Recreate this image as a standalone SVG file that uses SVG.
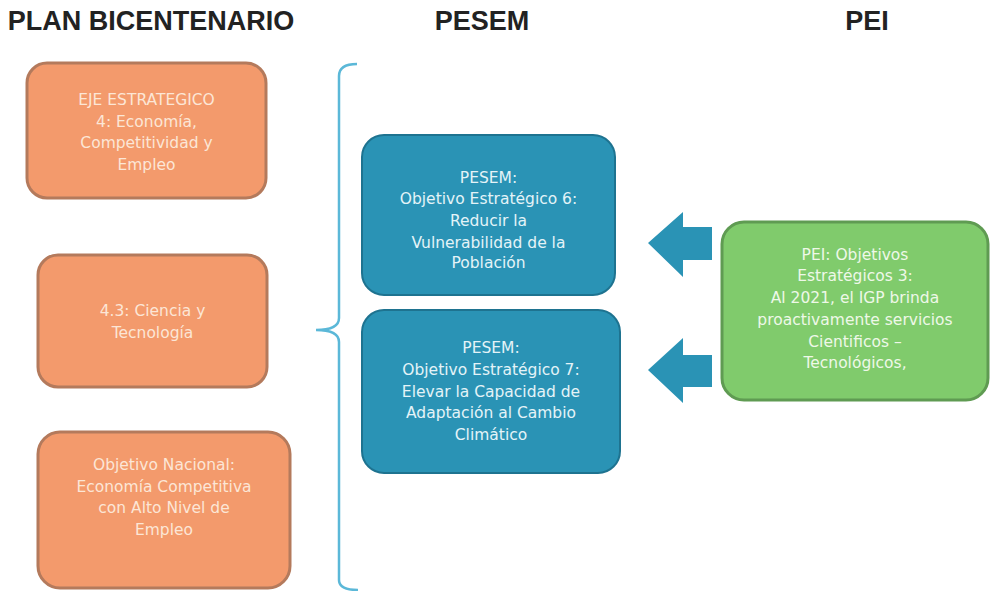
<svg xmlns="http://www.w3.org/2000/svg" width="991" height="591" viewBox="0 0 991 591">
<style>
.title{font-family:"Liberation Sans",Arial,sans-serif;font-weight:bold;font-size:27px;fill:#222;text-anchor:middle}
.lbl{font-family:"DejaVu Sans",Verdana,sans-serif;font-size:15.5px;text-anchor:middle}
.org rect{fill:#F39A6C;stroke:#B47A5C;stroke-width:3}
.org text{fill:#FCE6D6}
.blu rect{fill:#2A93B5;stroke:#1E7390;stroke-width:2}
.blu text{fill:#E4F3F8}
.grn rect{fill:#80CB6C;stroke:#5F9B52;stroke-width:3}
.grn text{fill:#EEF8E8}
.arr{fill:#2A93B5}
</style>
<rect width="991" height="591" fill="#fff"/>
<g id="titles">
<text class="title" x="151" y="30">PLAN BICENTENARIO</text>
<text class="title" x="482" y="30">PESEM</text>
<text class="title" x="867" y="30">PEI</text>
</g>
<g id="n1" class="org">
<rect x="27" y="63" width="239" height="135" rx="20"/>
<text class="lbl" x="146.5" y="105">EJE ESTRATEGICO</text>
<text class="lbl" x="146.5" y="127">4: Economía,</text>
<text class="lbl" x="146.5" y="148">Competitividad y</text>
<text class="lbl" x="146.5" y="170">Empleo</text>
</g>
<g id="n2" class="org">
<rect x="38" y="255" width="229" height="132" rx="20"/>
<text class="lbl" x="152.5" y="316">4.3: Ciencia y</text>
<text class="lbl" x="152.5" y="338">Tecnología</text>
</g>
<g id="n3" class="org">
<rect x="38" y="432" width="252" height="156" rx="22"/>
<text class="lbl" x="164" y="470">Objetivo Nacional:</text>
<text class="lbl" x="164" y="492">Economía Competitiva</text>
<text class="lbl" x="164" y="513">con Alto Nivel de</text>
<text class="lbl" x="164" y="535">Empleo</text>
</g>
<g id="n4" class="blu">
<rect x="362" y="135" width="253" height="160" rx="22"/>
<text class="lbl" x="488.5" y="183">PESEM:</text>
<text class="lbl" x="488.5" y="204">Objetivo Estratégico 6:</text>
<text class="lbl" x="488.5" y="226">Reducir la</text>
<text class="lbl" x="488.5" y="248">Vulnerabilidad de la</text>
<text class="lbl" x="488.5" y="268">Población</text>
</g>
<g id="n5" class="blu">
<rect x="362" y="310" width="258" height="163" rx="22"/>
<text class="lbl" x="491" y="353">PESEM:</text>
<text class="lbl" x="491" y="375">Objetivo Estratégico 7:</text>
<text class="lbl" x="491" y="397">Elevar la Capacidad de</text>
<text class="lbl" x="491" y="418">Adaptación al Cambio</text>
<text class="lbl" x="491" y="440">Climático</text>
</g>
<g id="n6" class="grn">
<rect x="722" y="222" width="266" height="178" rx="22"/>
<text class="lbl" x="855" y="260">PEI: Objetivos</text>
<text class="lbl" x="855" y="281">Estratégicos 3:</text>
<text class="lbl" x="855" y="303">Al 2021, el IGP brinda</text>
<text class="lbl" x="855" y="325">proactivamente servicios</text>
<text class="lbl" x="855" y="347">Cientificos –</text>
<text class="lbl" x="855" y="368">Tecnológicos,</text>
</g>
<g id="connectors">
<path d="M357,64 Q339,64 339,76 L339,318 Q339,330 316,330 Q339,330 339,342 L339,580 Q339,590 358,590" fill="none" stroke="#5BB8D8" stroke-width="2.5"/>
<polygon class="arr" points="648,243 683,212 683,227 712,227 712,260 683,260 683,277"/>
<polygon class="arr" points="648,370 683,338 683,355 712,355 712,387 683,387 683,403"/>
</g>
</svg>
